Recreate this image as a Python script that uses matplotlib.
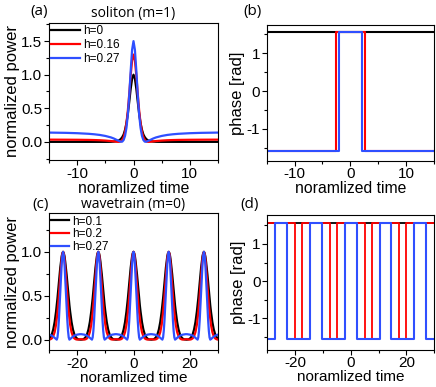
import numpy as np
import matplotlib
matplotlib.use("Agg")
import matplotlib.pyplot as plt
from matplotlib.ticker import MultipleLocator, FormatStrFormatter

plt.rcParams['font.family'] = ['Liberation Sans', 'DejaVu Sans']
plt.rcParams['axes.unicode_minus'] = False

# ---------------- data ----------------
# (a) soliton power, half profiles (symmetric about t=0)
sol_s = [0, 0.25, 0.5, 0.75, 1, 1.25, 1.5, 1.75, 2, 2.25, 2.5, 2.75, 3,
         3.5, 4, 5, 6, 7, 8, 10, 12, 15]
sol_h0 = [1.00, 0.94, 0.79, 0.60, 0.42, 0.28, 0.18, 0.11, 0.07, 0.043, 0.026,
          0.016, 0.010, 0.004, 0.001, 0, 0, 0, 0, 0, 0, 0]
sol_h016 = [1.30, 1.21, 0.99, 0.72, 0.47, 0.28, 0.15, 0.07, 0.028, 0.008,
            0.001, 0.0, 0.002, 0.007, 0.012, 0.019, 0.024, 0.027, 0.029,
            0.031, 0.032, 0.033]
sol_h027 = [1.50, 1.37, 1.06, 0.70, 0.41, 0.21, 0.09, 0.028, 0.003, 0.002,
            0.010, 0.020, 0.030, 0.050, 0.066, 0.088, 0.103, 0.113, 0.120,
            0.129, 0.134, 0.138]
sol_labels = ['h=0', 'h=0.16', 'h=0.27']

# (b) soliton phase: jump positions (phase = -pi/2 outside, +pi/2 inside)
sol_jump_h016 = 2.6
sol_jump_h027 = 2.1

# (c) wavetrain power: one half-period profile around each peak
wt_centers = [-25, -12.5, 0, 12.5, 25]
wt_s = [0, 0.25, 0.5, 0.75, 1, 1.25, 1.5, 1.75, 2, 2.25, 2.5, 3, 3.5, 4,
        4.5, 5, 5.5, 6, 6.25]
wt_h01 = [1.0, 0.985, 0.95, 0.89, 0.82, 0.74, 0.65, 0.56, 0.47, 0.39, 0.32,
          0.20, 0.115, 0.06, 0.028, 0.011, 0.003, 0.0005, 0.0]
wt_h02 = [1.0, 0.98, 0.92, 0.83, 0.72, 0.61, 0.50, 0.40, 0.31, 0.235, 0.17,
          0.085, 0.038, 0.014, 0.004, 0.0, 0.002, 0.004, 0.005]
wt_h027 = [1.0, 0.96, 0.86, 0.71, 0.54, 0.37, 0.22, 0.10, 0.025, 0.0, 0.006,
           0.020, 0.034, 0.045, 0.052, 0.057, 0.060, 0.062, 0.062]
wt_labels = ['h=0.1', 'h=0.2', 'h=0.27']

# (d) wavetrain phase
wt_mid = [-18.75, -6.25, 6.25, 18.75]     # red: -pi/2 around these
wt_red_hw = 1.25
wt_blue_hw = 2.1                           # blue: +pi/2 around peaks

colors = ['#000000', '#ff0000', '#2f4fff']
P = np.pi / 2

# ---------------- helpers ----------------
def mirror(s, v):
    s = np.asarray(s, float); v = np.asarray(v, float)
    return np.concatenate([-s[::-1], s[1:]]), np.concatenate([v[::-1], v[1:]])

def tile(centers, s, v):
    ts, vs = mirror(s, v)
    T, V = [], []
    for c in centers:
        T.append(ts + c); V.append(vs)
    return np.concatenate(T), np.concatenate(V)

def step(xmin, xmax, intervals, inside, outside):
    xs, ys = [xmin], [outside]
    for a, b in intervals:
        xs += [a, a, b, b]; ys += [outside, inside, inside, outside]
    xs.append(xmax); ys.append(outside)
    return xs, ys

def style(ax, xmaj, xmin, ymaj, ymin, yfmt=None, xlfs=11.3):
    ax.xaxis.set_major_locator(MultipleLocator(xmaj))
    ax.xaxis.set_minor_locator(MultipleLocator(xmin))
    ax.yaxis.set_major_locator(MultipleLocator(ymaj))
    ax.yaxis.set_minor_locator(MultipleLocator(ymin))
    if yfmt:
        ax.yaxis.set_major_formatter(FormatStrFormatter(yfmt))
    ax.tick_params(which='major', direction='out', length=3.5, width=0.8,
                   labelsize=11, pad=1.2)
    ax.tick_params(which='minor', direction='out', length=2, width=0.8)
    for sp in ax.spines.values():
        sp.set_linewidth(0.8)
    ax.set_xlabel('noramlized time', fontsize=xlfs, labelpad=0)

fig = plt.figure(figsize=(4.36, 3.87), dpi=100)
axA = fig.add_axes([0.1124, 0.5866, 0.3876, 0.354])
axB = fig.add_axes([0.6117, 0.5847, 0.3837, 0.3506])
axC = fig.add_axes([0.1124, 0.0952, 0.3876, 0.3538])
axD = fig.add_axes([0.6130, 0.0964, 0.3830, 0.3480])

# (a)
for vals, lab, c in zip([sol_h0, sol_h016, sol_h027], sol_labels, colors):
    t, v = mirror(sol_s, vals)
    axA.plot(t, v, color=c, lw=1.6, label=lab)
axA.set_xlim(-15, 15); axA.set_ylim(-0.27, 1.77)
style(axA, 10, 5, 0.5, 0.25, '%.1f')
axA.set_ylabel('normalized power', fontsize=12, labelpad=1)
axA.set_title('soliton (m=1)', fontsize=10, family='Open Sans', pad=4)
axA.legend(loc='upper left', frameon=False, fontsize=8.5, handlelength=2.4,
           handletextpad=0.3, labelspacing=0.15, borderpad=0.1,
           borderaxespad=0.1)

# (b)
axB.plot([-15, 15], [P, P], color=colors[0], lw=1.5)
for jump, c in zip([sol_jump_h016, sol_jump_h027], colors[1:]):
    xs, ys = step(-15, 15, [(-jump, jump)], P, -P)
    axB.plot(xs, ys, color=c, lw=1.5)
axB.set_xlim(-15, 15); axB.set_ylim(-1.84, 1.75)
style(axB, 10, 5, 1, 0.5)
axB.set_ylabel('phase [rad]', fontsize=12, labelpad=1)

# (c)
for vals, lab, c in zip([wt_h01, wt_h02, wt_h027], wt_labels, colors):
    t, v = tile(wt_centers, wt_s, vals)
    axC.plot(t, v, color=c, lw=1.6, label=lab)
axC.set_xlim(-30, 30); axC.set_ylim(-0.12, 1.44)
style(axC, 20, 10, 0.5, 0.25, '%.1f', xlfs=11)
axC.set_ylabel('normalized power', fontsize=12, labelpad=1)
axC.set_title('wavetrain (m=0)', fontsize=10, family='Open Sans', pad=4)
axC.legend(loc='upper left', frameon=False, fontsize=8.5, handlelength=1.5,
           handletextpad=0.3, labelspacing=0.05, borderpad=0.1,
           borderaxespad=0.1)

# (d)
axD.plot([-30, 30], [P, P], color=colors[0], lw=1.3)
xs, ys = step(-30, 30, [(m - wt_red_hw, m + wt_red_hw) for m in wt_mid], -P, P)
axD.plot(xs, ys, color=colors[1], lw=1.3)
xs, ys = step(-30, 30, [(c - wt_blue_hw, c + wt_blue_hw) for c in wt_centers], P, -P)
axD.plot(xs, ys, color=colors[2], lw=1.5)
axD.set_xlim(-30, 30); axD.set_ylim(-1.85, 1.78)
style(axD, 20, 10, 1, 0.5, xlfs=11)
axD.set_ylabel('phase [rad]', fontsize=12, labelpad=1)

# panel labels
for x, y, s in [(30, 12, '(a)'), (243, 12, '(b)'), (32, 204, '(c)'), (240, 204, '(d)')]:
    fig.text(x / 436, 1 - y / 387, s, fontsize=11, family='Open Sans',
             va='center', ha='left')

fig.savefig('out.png', dpi=100)
